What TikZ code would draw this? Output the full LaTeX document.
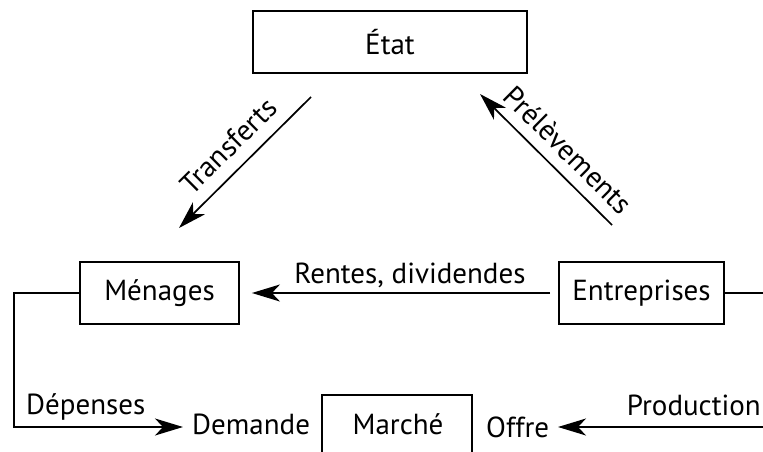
\documentclass[tikz,border=0pt]{standalone}
\usepackage{fontspec}
\setmainfont{PT Sans}
\usetikzlibrary{arrows.meta}
\begin{document}
\begin{tikzpicture}[x=1pt,y=-1pt,
  txt/.style={font=\fontsize{29}{32}\selectfont},
  box/.style={txt,draw,line width=1.8pt,inner sep=0pt},
  lbl/.style={txt,inner sep=0pt},
  flow/.style={line width=1.7pt,-{Stealth[length=28pt,width=17pt,inset=8pt]}},
  plain/.style={line width=1.7pt}]
\useasboundingbox (0,0) rectangle (763,452);
\node[box,minimum width=274pt,minimum height=62pt] (etat) at (390,42) {État};
\node[box,minimum width=159pt,minimum height=62pt] (menages) at (159.5,293) {Ménages};
\node[box,minimum width=165pt,minimum height=62pt] (entr) at (641.5,293) {Entreprises};
\node[lbl,anchor=base] (marche) at (398,434) {Marché};
\coordinate (mtl) at (322,395);
\coordinate (mtr) at (472,395);
\coordinate (mbl) at (322,452);
\coordinate (mbr) at (472,452);
\draw[plain] (mbl) -- (mtl) -- (mtr) -- (mbr);
% Transferts
\coordinate (t1) at (311,97);
\coordinate (t2) at (179,228);
\draw[flow] (t1) -- node[lbl,sloped,above=12pt,pos=0.5] {Transferts} (t2);
% Prelevements
\coordinate (p1) at (612,225);
\coordinate (p2) at (480,94);
\draw[flow] (p1) -- node[lbl,sloped,above=11pt,pos=0.45] {Prélèvements} (p2);
% Rentes
\coordinate (r1) at (550,293);
\draw[flow,shorten >=12pt] (r1) -- (menages.east);
\node[lbl,anchor=base] (rentes) at (410,283) {Rentes, dividendes};
% left loop
\coordinate (lc1) at (14,293);
\coordinate (lc2) at (14,427);
\node[lbl,anchor=base west] (demande) at (192,434) {Demande};
\draw[flow,shorten >=9pt] (menages.west) -- (lc1) -- (lc2) -- (demande.west |- lc2);
\node[lbl,anchor=base west] (depenses) at (26,414) {Dépenses};
% right side
\coordinate (rc1) at (763,293);
\draw[plain] (entr.east) -- (rc1);
\coordinate (rc2) at (763,427);
\coordinate (otip) at (558,427);
\node[lbl,anchor=base west] (offre) at (486,437) {Offre};
\draw[flow] (rc2) -- (otip);
\node[lbl,anchor=base east] (prod) at (761,415) {Production};
\end{tikzpicture}
\end{document}
